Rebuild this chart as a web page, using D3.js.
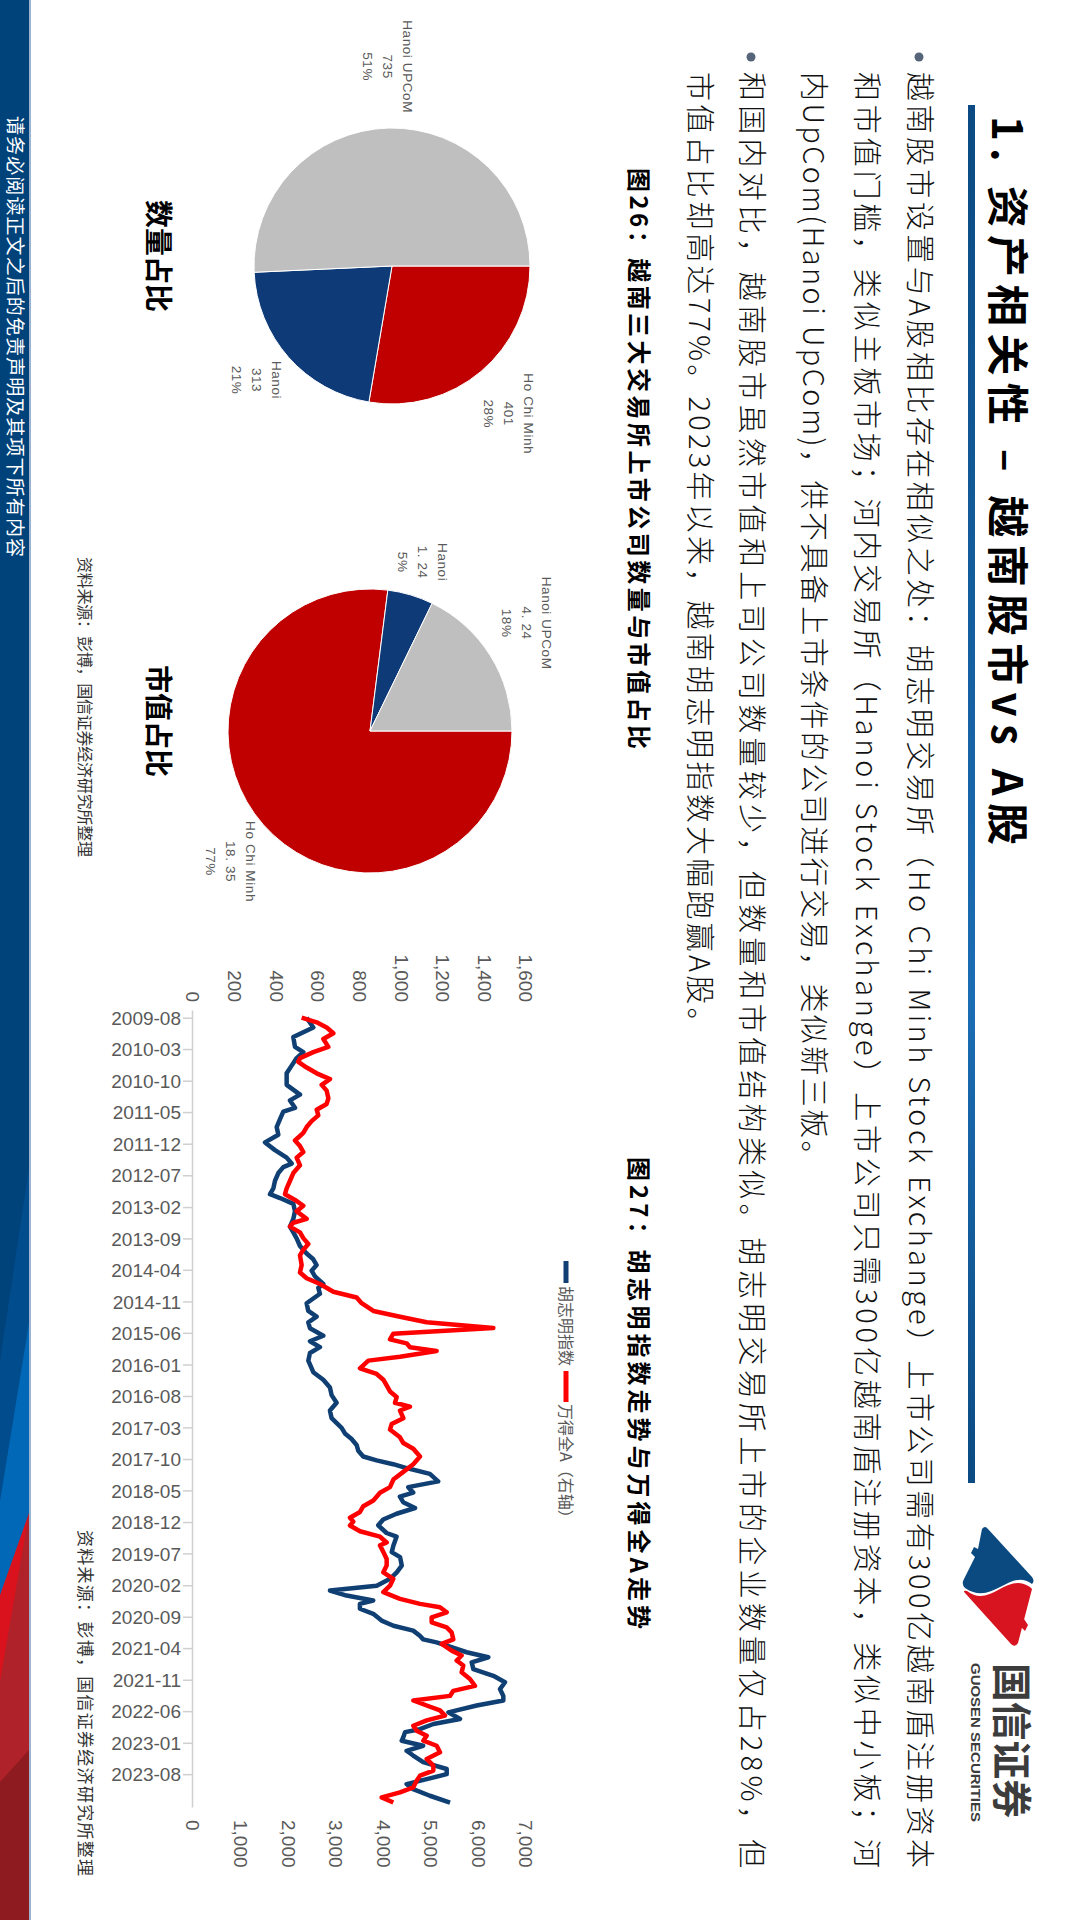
<!DOCTYPE html>
<html><head><meta charset="utf-8">
<script src="https://cdn.jsdelivr.net/npm/d3@7"></script>
<style>html,body{margin:0;padding:0;background:#fff;} svg{display:block}</style>
</head><body>
<svg id="page" width="1080" height="1920"></svg>
<script>
// ---------------- DATA ----------------
const slideTitle = "1. 资产相关性 – 越南股市vs A股";
const bodyParagraphs = [
  ["越南股市设置与A股相比存在相似之处：胡志明交易所（Ho Chi Minh Stock Exchange）上市公司需有300亿越南盾注册资本",
   "和市值门槛，类似主板市场；河内交易所（Hanoi Stock Exchange）上市公司只需300亿越南盾注册资本，类似中小板；河",
   "内UpCom(Hanoi UpCom)，供不具备上市条件的公司进行交易，类似新三板。"],
  ["和国内对比，越南股市虽然市值和上司公司数量较少，但数量和市值结构类似。胡志明交易所上市的企业数量仅占28%，但",
   "市值占比却高达77%。2023年以来，越南胡志明指数大幅跑赢A股。"]
];
const fig26Caption = "图26：越南三大交易所上市公司数量与市值占比";
const fig27Caption = "图27：胡志明指数走势与万得全A走势";
const sourceText = "资料来源：彭博，国信证券经济研究所整理";
const footerText = "请务必阅读正文之后的免责声明及其项下所有内容";

const pieCategories = ["Ho Chi Minh", "Hanoi", "Hanoi UPCoM"];
const pieColors = ["#c00000", "#0e3a78", "#bfbfbf"];
const countTitle = "数量占比";
const countValues = [401, 313, 735];
const countValueLabels = ["401", "313", "735"];
const countPctLabels = ["28%", "21%", "51%"];
const capTitle = "市值占比";
const capValues = [18.35, 1.24, 4.24];
const capValueLabels = ["18. 35", "1. 24", "4. 24"];
const capPctLabels = ["77%", "5%", "18%"];

const seriesNames = ["胡志明指数", "万得全A（右轴）"];
const seriesColors = ["#0f3f73", "#ff0000"];
const dateTickLabels = ["2009-08","2010-03","2010-10","2011-05","2011-12","2012-07","2013-02","2013-09","2014-04","2014-11","2015-06","2016-01","2016-08","2017-03","2017-10","2018-05","2018-12","2019-07","2020-02","2020-09","2021-04","2021-11","2022-06","2023-01","2023-08"];
const axisDateExtent = ["2009-06-10", "2024-03-10"];
const leftTicks = [0,200,400,600,800,1000,1200,1400,1600];
const rightTicks = [0,1000,2000,3000,4000,5000,6000,7000];

const hcmDates = ["2009-08-01","2009-10-06","2009-12-10","2010-02-14","2010-03-22","2010-05-01","2010-06-21","2010-08-12","2010-10-29","2011-01-03","2011-02-11","2011-04-02","2011-04-28","2011-06-18","2011-08-10","2011-10-01","2011-11-22","2012-01-13","2012-03-04","2012-04-13","2012-05-07","2012-06-16","2012-08-07","2012-09-28","2012-11-06","2012-12-02","2013-01-10","2013-03-01","2013-04-22","2013-06-13","2013-07-22","2013-09-01","2013-10-22","2013-12-12","2014-01-20","2014-02-28","2014-04-07","2014-05-15","2014-07-06","2014-08-01","2014-09-10","2014-11-13","2015-01-04","2015-02-12","2015-03-22","2015-05-01","2015-06-21","2015-07-28","2015-09-06","2015-10-15","2015-12-06","2016-02-22","2016-04-13","2016-06-04","2016-07-26","2016-09-16","2016-11-07","2016-12-29","2017-03-04","2017-04-11","2017-05-19","2017-06-28","2017-08-06","2017-09-14","2017-10-10","2017-11-05","2017-12-01","2018-01-09","2018-03-01","2018-04-09","2018-05-16","2018-06-12","2018-07-20","2018-08-28","2018-10-06","2018-11-14","2018-12-23","2019-02-13","2019-03-10","2019-05-08","2019-06-22","2019-07-26","2019-09-21","2019-11-06","2019-12-20","2020-02-04","2020-03-08","2020-04-11","2020-05-14","2020-06-06","2020-07-09","2020-08-12","2020-09-27","2020-11-01","2020-12-04","2021-01-08","2021-02-01","2021-02-21","2021-03-26","2021-04-29","2021-06-02","2021-07-06","2021-08-21","2021-10-05","2021-11-18","2022-01-03","2022-02-18","2022-03-21","2022-04-24","2022-06-09","2022-07-24","2022-08-27","2022-10-01","2022-10-21","2022-11-26","2022-12-18","2023-01-21","2023-02-24","2023-03-28","2023-05-12","2023-06-27","2023-08-01","2023-09-04","2023-10-07","2023-11-10","2023-12-25","2024-02-09"];
const hcmValues = [546,578,482,490,530,498,474,450,450,514,466,490,434,418,402,410,346,394,450,474,434,410,394,386,370,418,482,490,482,466,482,498,514,546,578,594,570,586,626,602,610,546,554,594,554,562,626,562,610,562,554,578,626,658,666,690,658,666,714,730,762,786,794,818,882,962,1026,1138,1178,1034,1058,994,1010,1067,978,914,890,930,978,963,955,995,1003,979,947,883,658,738,866,802,802,866,906,963,1058,1090,1106,1170,1242,1315,1419,1339,1347,1443,1499,1475,1491,1491,1363,1227,1283,1155,1090,1019,1010,1003,1106,1026,1058,1106,1219,1219,1123,1026,1058,1138,1235];

const windDates = ["2009-08-01","2009-09-01","2009-10-06","2009-11-14","2009-12-23","2010-02-14","2010-03-22","2010-05-01","2010-05-26","2010-07-04","2010-08-12","2010-09-20","2010-10-29","2010-12-07","2011-01-28","2011-03-07","2011-04-15","2011-05-23","2011-07-01","2011-08-10","2011-09-18","2011-11-09","2011-12-17","2012-01-26","2012-03-04","2012-04-25","2012-06-16","2012-08-07","2012-09-28","2012-11-06","2012-12-15","2013-01-23","2013-03-01","2013-04-22","2013-05-18","2013-06-13","2013-07-22","2013-08-30","2013-10-08","2013-11-16","2013-12-25","2014-02-28","2014-04-19","2014-05-28","2014-07-06","2014-08-27","2014-10-05","2014-11-13","2015-01-04","2015-02-12","2015-03-21","2015-04-29","2015-06-07","2015-07-15","2015-08-11","2015-09-06","2015-10-02","2015-11-10","2015-12-06","2016-01-27","2016-03-05","2016-04-13","2016-05-22","2016-07-01","2016-08-08","2016-09-16","2016-10-12","2016-11-07","2016-12-29","2017-02-07","2017-03-16","2017-05-07","2017-06-15","2017-07-23","2017-09-14","2017-11-05","2017-12-27","2018-02-17","2018-04-09","2018-05-17","2018-07-08","2018-08-16","2018-09-24","2018-11-02","2018-11-28","2018-12-24","2019-02-01","2019-03-10","2019-04-18","2019-05-08","2019-06-22","2019-08-07","2019-09-21","2019-11-06","2019-12-20","2020-02-04","2020-03-19","2020-05-03","2020-06-06","2020-06-29","2020-08-02","2020-09-05","2020-10-09","2020-11-12","2020-12-16","2021-02-01","2021-03-04","2021-04-18","2021-05-21","2021-06-24","2021-07-28","2021-09-12","2021-10-27","2021-12-12","2022-01-15","2022-02-18","2022-03-21","2022-04-24","2022-05-27","2022-07-01","2022-08-03","2022-09-08","2022-10-11","2022-11-15","2022-12-18","2023-01-21","2023-03-06","2023-04-20","2023-06-04","2023-07-08","2023-08-11","2023-09-14","2023-10-29","2023-12-02","2024-01-05","2024-02-09"];
const windValues = [2284,2600,2810,2950,2740,2845,2529,2249,2214,2389,2600,2880,2705,2810,2845,2810,2600,2634,2494,2389,2319,2144,2249,2319,2179,2249,2109,2039,1969,1934,2144,2319,2179,2389,2109,2039,2249,2319,2424,2319,2249,2284,2249,2389,2670,2950,3440,3545,3791,4351,4912,6313,4211,4141,4491,4561,5122,4351,3686,3510,3861,4001,4071,4141,4281,4246,4561,4351,4421,4176,4141,4351,4421,4631,4772,4631,4421,4211,4141,3931,3791,3580,3510,3300,3370,3300,3510,3931,4071,3931,4001,4071,4071,4001,4211,4141,4001,4351,4772,5192,5332,5017,5017,5332,5437,5472,5227,5437,5647,5542,5682,5647,5822,5927,5472,5402,4631,4912,5192,5297,4912,4631,4701,4912,4842,5122,5192,4912,5052,5052,4772,4701,4631,4351,3966,4211];

// ---------------- DRAW ----------------
const CJK = "'Noto Sans CJK SC','Noto Sans',sans-serif";
const LAT = "'Liberation Sans',Arial,sans-serif";

const svg = d3.select("#page");
const defs = svg.append("defs");
const grad = defs.append("linearGradient").attr("id","ruleGrad").attr("x1","0%").attr("x2","100%");
grad.append("stop").attr("offset","0%").attr("stop-color","#0b4a82");
grad.append("stop").attr("offset","65%").attr("stop-color","#1b6db4");
grad.append("stop").attr("offset","100%").attr("stop-color","#0b4a82");

// slide drawn in landscape coordinates, rotated 90° clockwise onto the portrait page
const slide = svg.append("g").attr("transform","translate(1080,0) rotate(90)");
slide.append("rect").attr("width",1920).attr("height",1080).attr("fill","#fff");

// footer band
const foot = slide.append("g");
foot.append("rect").attr("x",0).attr("y",1051).attr("width",1920).attr("height",29).attr("fill","#00427a");
foot.append("rect").attr("x",0).attr("y",1049).attr("width",1920).attr("height",2).attr("fill","#9db3cf");
const bandShapes = [
  {c:"#004c8d", p:[[1167,1051],[1920,1051],[1920,1080],[1361,1080]]},
  {c:"#0068b6", p:[[1323,1051],[1920,1051],[1920,1080],[1501,1080]]},
  {c:"#d9121d", p:[[1513,1051],[1920,1051],[1920,1080],[1595,1080]]},
  {c:"#b0222a", p:[[1513,1051],[1920,1051],[1920,1080],[1681,1080]]},
  {c:"#8d1b20", p:[[1750,1051],[1920,1051],[1920,1080],[1782,1080]]}
];
foot.selectAll("polygon").data(bandShapes).join("polygon")
  .attr("points",d=>d.p.map(q=>q.join(",")).join(" ")).attr("fill",d=>d.c);
foot.append("text").attr("x",116).attr("y",1072).attr("font-family",CJK).attr("font-size",19)
  .attr("fill","#fff").attr("textLength",441).attr("lengthAdjust","spacing").text(footerText);

// title
slide.append("text").attr("x",116).attr("y",88).attr("font-family",CJK).attr("font-weight",700)
  .attr("font-size",42).attr("fill","#000").attr("textLength",729).attr("lengthAdjust","spacing").text(slideTitle);
slide.append("rect").attr("x",105).attr("y",105).attr("width",1378).attr("height",7).attr("fill","url(#ruleGrad)");

// logo
const logo = slide.append("g").attr("transform","translate(1527,45)");
logo.append("path").attr("fill","#0a4a80")
  .attr("d","M2,47 L50,3 Q54,0 57,3 C40,25 80,42 61,70 Q57,74 52,71 L30,60 L26,64 L20,61 L22,57 L2,53 Q-2,50 2,47 Z");
logo.append("path").attr("fill","#d7141f")
  .attr("d","M62,3 L116,17 Q121,20 117,24 L66,70 Q63,73 64,68 C82,45 44,28 60,5 Z M92,11 L98,7 L104,10 L100,14 Z");
slide.append("text").attr("x",1663).attr("y",83).attr("font-family",CJK).attr("font-weight",700)
  .attr("font-size",40).attr("fill","#3c3c3c").attr("textLength",155).attr("lengthAdjust","spacingAndGlyphs").text("国信证券");
slide.append("text").attr("x",1663).attr("y",109).attr("font-family",LAT).attr("font-weight",700)
  .attr("font-size",12.5).attr("fill","#3c3c3c").attr("textLength",159).attr("lengthAdjust","spacingAndGlyphs").text("GUOSEN SECURITIES");

// body text
const emWidth = s => Array.from(s).reduce((a,c)=>a+(c.charCodeAt(0)<256?0.5:1),0);
const EM = 33.26, bodyLeft = 72;
let lineV = [171, 224, 277, 339, 391];
let li = 0;
bodyParagraphs.forEach(par=>{
  slide.append("circle").attr("cx",57).attr("cy",lineV[li]-10).attr("r",4.5).attr("fill","#56657a");
  par.forEach((line,k)=>{
    const len = k < par.length-1 ? 1796 : emWidth(line)*EM;
    slide.append("text").attr("x",bodyLeft).attr("y",lineV[li]).attr("font-family",CJK).attr("font-weight",300)
      .attr("font-size",29).attr("fill","#111").attr("textLength",len).attr("lengthAdjust","spacing").text(line);
    li++;
  });
});

// captions
slide.append("text").attr("x",168).attr("y",450).attr("font-family",CJK).attr("font-weight",700)
  .attr("font-size",24).attr("fill","#000").attr("textLength",581).attr("lengthAdjust","spacing").text(fig26Caption);
slide.append("text").attr("x",1157).attr("y",450).attr("font-family",CJK).attr("font-weight",700)
  .attr("font-size",24).attr("fill","#000").attr("textLength",472).attr("lengthAdjust","spacing").text(fig27Caption);
slide.append("text").attr("x",557).attr("y",1001).attr("font-family",CJK)
  .attr("font-size",16).attr("fill","#333").attr("textLength",300).attr("lengthAdjust","spacing").text(sourceText);
slide.append("text").attr("x",1530).attr("y",1001).attr("font-family",CJK)
  .attr("font-size",17).attr("fill","#333").attr("textLength",346).attr("lengthAdjust","spacing").text(sourceText);

// pies
function drawPie(cu, cv, r, values, valueLabels, pctLabels, title){
  const g = slide.append("g").attr("transform",`translate(${cu},${cv})`);
  const arcs = d3.pie().sort(null).value(d=>d)(values);
  const arc = d3.arc().innerRadius(0).outerRadius(r);
  g.selectAll("path").data(arcs).join("path").attr("d",arc)
    .attr("fill",(d,i)=>pieColors[i]).attr("stroke","#fff").attr("stroke-width",1);
  arcs.forEach((a,i)=>{
    const mid = (a.startAngle+a.endAngle)/2;
    const dx = Math.sin(mid), dy = -Math.cos(mid);
    const t = g.append("text").attr("font-family",LAT).attr("font-size",13.5).attr("fill","#595959")
      .attr("letter-spacing",0.6).attr("text-anchor","middle");
    [pieCategories[i], valueLabels[i], pctLabels[i]].forEach((s,k)=>{
      t.append("tspan").attr("x",0).attr("y",(k-1)*20).attr("dy","0.35em").attr("xml:space","preserve").text(s);
    });
    const w = t.node().getBBox().width, h = 56;
    const gap = r + 15;
    t.attr("transform",`translate(${dx*gap + dx*w/2},${dy*gap + dy*h/2})`);
  });
  slide.append("text").attr("x",cu-10).attr("y",932).attr("text-anchor","middle").attr("font-family",CJK)
    .attr("font-weight",700).attr("font-size",28).attr("fill","#000").text(title);
}
drawPie(266, 688, 138, countValues, countValueLabels, countPctLabels, countTitle);
drawPie(731, 710, 142, capValues, capValueLabels, capPctLabels, capTitle);

// line chart
const parseDay = d3.timeParse("%Y-%m-%d");
const parseMonth = d3.timeParse("%Y-%m");
const x = d3.scaleTime().domain(axisDateExtent.map(parseDay)).range([1010, 1807]);
const yL = d3.scaleLinear().domain([0,1600]).range([887,554]);
const yR = d3.scaleLinear().domain([0,7000]).range([887,554]);

const gx = slide.append("g").attr("transform","translate(0,887)")
  .call(d3.axisBottom(x).tickValues(dateTickLabels.map(parseMonth)).tickFormat(d3.timeFormat("%Y-%m")).tickSize(10).tickSizeOuter(0));
gx.select(".domain").attr("stroke","#d0d0d0").attr("stroke-width",1.5);
gx.selectAll(".tick line").attr("stroke","#d0d0d0").attr("stroke-width",1.5);
gx.selectAll(".tick text").attr("x",null).attr("y",null).attr("dy","0.35em")
  .attr("transform","translate(0,12) rotate(-90)").attr("text-anchor","end")
  .attr("font-family",LAT).attr("font-size",19).attr("fill","#595959");

const gl = slide.append("g").attr("transform","translate(1010,0)")
  .call(d3.axisLeft(yL).tickValues(leftTicks).tickSize(0).tickPadding(8).tickFormat(d3.format(",")));
gl.select(".domain").remove();
gl.selectAll("text").attr("font-family",LAT).attr("font-size",19).attr("fill","#595959");

const gr = slide.append("g").attr("transform","translate(1807,0)")
  .call(d3.axisRight(yR).tickValues(rightTicks).tickSize(0).tickPadding(13).tickFormat(d3.format(",")));
gr.select(".domain").remove();
gr.selectAll("text").attr("font-family",LAT).attr("font-size",19).attr("fill","#595959");

const hcm = hcmDates.map((d,i)=>({d:parseDay(d), v:hcmValues[i]}));
const wind = windDates.map((d,i)=>({d:parseDay(d), v:windValues[i]}));
slide.append("path").datum(hcm).attr("fill","none").attr("stroke",seriesColors[0]).attr("stroke-width",4.5)
  .attr("stroke-linejoin","round").attr("d",d3.line().x(p=>x(p.d)).y(p=>yL(p.v)));
slide.append("path").datum(wind).attr("fill","none").attr("stroke",seriesColors[1]).attr("stroke-width",4.5)
  .attr("stroke-linejoin","round").attr("d",d3.line().x(p=>x(p.d)).y(p=>yR(p.v)));

// legend
const leg = slide.append("g").attr("transform","translate(1261,514)");
const legItems = [{x:0, w:22, tx:25}, {x:110, w:31, tx:143}];
legItems.forEach((it,i)=>{
  leg.append("line").attr("x1",it.x).attr("x2",it.x+it.w).attr("y1",0).attr("y2",0)
    .attr("stroke",seriesColors[i]).attr("stroke-width",5);
  leg.append("text").attr("x",it.tx).attr("y",0).attr("dy","0.36em").attr("font-family",CJK)
    .attr("font-size",16).attr("fill","#595959").text(seriesNames[i]);
});
</script>
</body></html>
